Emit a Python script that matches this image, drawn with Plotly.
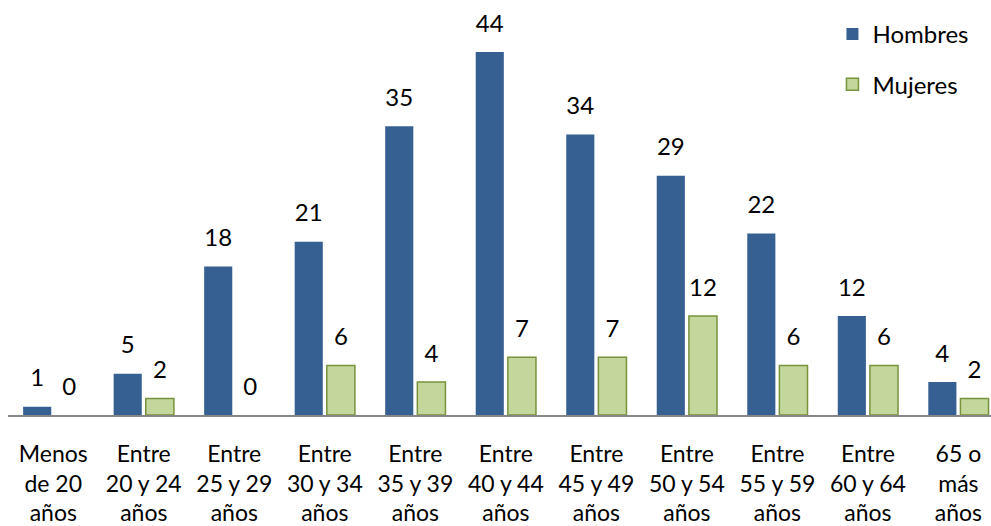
import plotly.graph_objects as go

categories = ["Menos<br>de 20<br>años", "Entre<br>20 y 24<br>años", "Entre<br>25 y 29<br>años",
              "Entre<br>30 y 34<br>años", "Entre<br>35 y 39<br>años", "Entre<br>40 y 44<br>años",
              "Entre<br>45 y 49<br>años", "Entre<br>50 y 54<br>años", "Entre<br>55 y 59<br>años",
              "Entre<br>60 y 64<br>años", "65 o<br>más<br>años"]
hombres = [1, 5, 18, 21, 35, 44, 34, 29, 22, 12, 4]
mujeres = [0, 2, 0, 6, 4, 7, 7, 12, 6, 6, 2]

FONT = "Lato"
LABEL_GAP = 1.5  # gap between bar top and its value label, in data units
M_FILL, M_LINE = "#c3d69b", "#77933c"

fig = go.Figure()
fig.add_trace(go.Bar(x=categories, y=hombres, name="Hombres", legendgroup="h", offsetgroup="h",
                     marker=dict(color="#376092", line=dict(width=0))))
fig.add_trace(go.Bar(x=categories, y=mujeres, name="Mujeres", legendgroup="m", offsetgroup="m",
                     showlegend=False,
                     marker=dict(color=M_FILL,
                                 line=dict(color=M_LINE,
                                           width=[1.5 if v > 0 else 0 for v in mujeres]))))
# legend entry for Mujeres (with its border)
fig.add_trace(go.Bar(x=[None], y=[None], name="Mujeres", legendgroup="m", offsetgroup="m",
                     marker=dict(color=M_FILL, line=dict(color=M_LINE, width=1.5))))
# transparent spacer bars carrying the value labels
for vals, grp in ((hombres, "h"), (mujeres, "m")):
    fig.add_trace(go.Bar(x=categories, y=[LABEL_GAP] * len(vals), base=vals, offsetgroup=grp,
                         showlegend=False, hoverinfo="skip",
                         marker=dict(color="rgba(0,0,0,0)", line=dict(width=0)),
                         text=vals, textposition="outside", cliponaxis=False,
                         textfont=dict(size=24, color="#000000", family=FONT)))

fig.update_layout(
    width=991, height=526,
    margin=dict(l=8, r=0, t=2, b=111),
    paper_bgcolor="white", plot_bgcolor="white",
    barmode="group", bargap=0.29, bargroupgap=0.125,
    font=dict(family=FONT, size=23, color="#000000"),
    showlegend=True,
    legend=dict(x=0.8387, y=0.976, xanchor="left", yanchor="top",
                tracegroupgap=16, font=dict(size=24, family=FONT),
                itemwidth=30, bgcolor="rgba(0,0,0,0)"),
    xaxis=dict(range=[-0.5, 10.36], showline=True, linecolor="#868686", linewidth=2,
               ticks="", showgrid=False, ticklabelstandoff=17,
               tickfont=dict(size=23, family=FONT)),
    yaxis=dict(range=[0, 50.06], visible=False, showgrid=False),
)
fig.write_html("out.html", config={"displayModeBar": False},
               post_script="document.body.style.margin='0';")
